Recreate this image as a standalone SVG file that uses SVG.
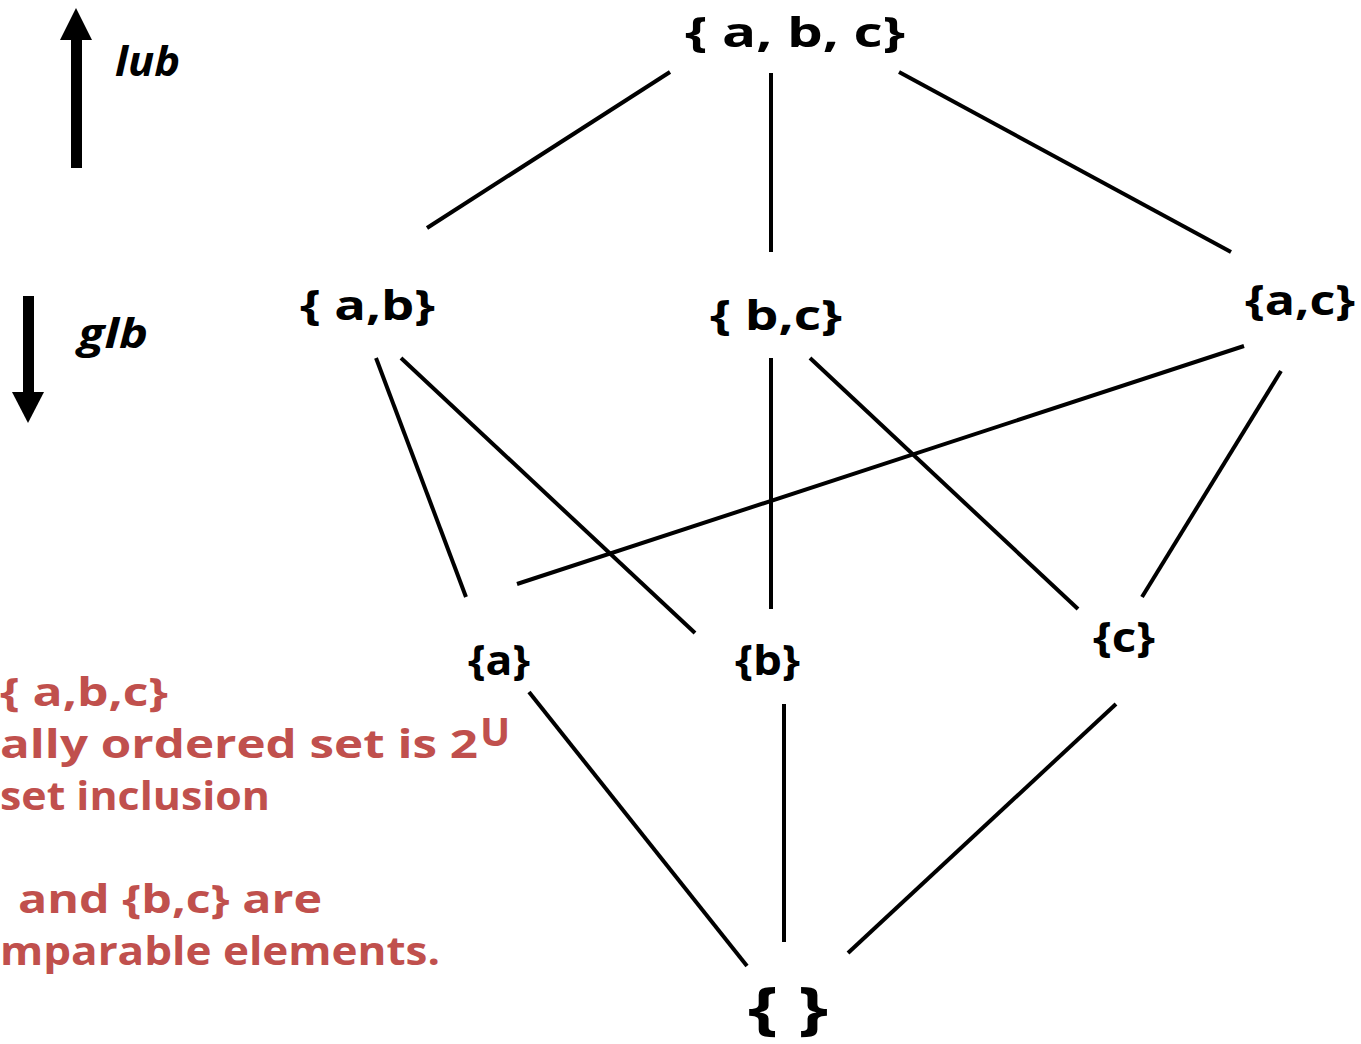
<svg xmlns="http://www.w3.org/2000/svg" width="1361" height="1044" viewBox="0 0 1361 1044">
<style>
.lbl{font-family:"Open Sans","DejaVu Sans",sans-serif;font-weight:700;fill:#000;}
.note{font-family:"Open Sans","DejaVu Sans",sans-serif;font-weight:700;fill:#C0504D;font-size:40px;}
.dir{font-family:"Open Sans","DejaVu Sans",sans-serif;font-weight:700;font-style:italic;font-size:42px;fill:#000;}
.edge{stroke:#000;stroke-width:4;fill:none;}
</style>
<rect width="1361" height="1044" fill="#fff"/>
<g id="connectors">
<line class="edge" x1="670" y1="72" x2="427" y2="228"/>
<line class="edge" x1="771" y1="73" x2="771" y2="252"/>
<line class="edge" x1="899" y1="72" x2="1231" y2="252"/>
<line class="edge" x1="376" y1="358" x2="466" y2="597"/>
<line class="edge" x1="401" y1="358" x2="695" y2="633"/>
<line class="edge" x1="771" y1="358" x2="771" y2="609"/>
<line class="edge" x1="810" y1="358" x2="1078" y2="609"/>
<line class="edge" x1="1244" y1="346" x2="517" y2="584"/>
<line class="edge" x1="1281" y1="371" x2="1142" y2="597"/>
<line class="edge" x1="529" y1="692" x2="747" y2="966"/>
<line class="edge" x1="784" y1="704" x2="784" y2="942"/>
<line class="edge" x1="1116" y1="704" x2="848" y2="953"/>
</g>
<g id="node-abc"><text class="lbl" x="685" y="47" font-size="42" textLength="220" lengthAdjust="spacingAndGlyphs">{ a, b, c}</text></g>
<g id="node-ab"><text class="lbl" x="300" y="320" font-size="42" textLength="135" lengthAdjust="spacingAndGlyphs">{ a,b}</text></g>
<g id="node-bc"><text class="lbl" x="710" y="330" font-size="42" textLength="132" lengthAdjust="spacingAndGlyphs">{ b,c}</text></g>
<g id="node-ac"><text class="lbl" x="1245" y="315" font-size="42" textLength="110" lengthAdjust="spacingAndGlyphs">{a,c}</text></g>
<g id="node-a"><text class="lbl" x="468" y="675" font-size="42" textLength="62" lengthAdjust="spacingAndGlyphs">{a}</text></g>
<g id="node-b"><text class="lbl" x="735" y="675" font-size="42" textLength="65" lengthAdjust="spacingAndGlyphs">{b}</text></g>
<g id="node-c"><text class="lbl" x="1093" y="652" font-size="42" textLength="62" lengthAdjust="spacingAndGlyphs">{c}</text></g>
<g id="node-empty"><text class="lbl" x="748" y="1028" font-size="58" textLength="80" lengthAdjust="spacingAndGlyphs">{ }</text></g>
<g id="lub">
<rect x="71" y="38" width="11" height="130" fill="#000"/>
<polygon points="60,40 92,40 76,8" fill="#000"/>
<text class="dir" x="115" y="76" textLength="65" lengthAdjust="spacingAndGlyphs">lub</text>
</g>
<g id="glb">
<rect x="23" y="296" width="11" height="98" fill="#000"/>
<polygon points="12,392 44,392 28,423" fill="#000"/>
<text class="dir" x="78" y="348" textLength="70" lengthAdjust="spacingAndGlyphs">glb</text>
</g>
<g id="notes">
<text class="note" x="0" y="706" textLength="168" lengthAdjust="spacingAndGlyphs">{ a,b,c}</text>
<text class="note" x="0" y="758" textLength="478" lengthAdjust="spacingAndGlyphs">ally ordered set is 2</text>
<text class="note" x="480" y="746" font-size="24" font-weight="400">U</text>
<text class="note" x="0" y="810" textLength="270" lengthAdjust="spacingAndGlyphs">set inclusion</text>
<text class="note" x="18" y="913" textLength="304" lengthAdjust="spacingAndGlyphs">and {b,c} are</text>
<text class="note" x="0" y="965" textLength="440" lengthAdjust="spacingAndGlyphs">mparable elements.</text>
</g>
</svg>
